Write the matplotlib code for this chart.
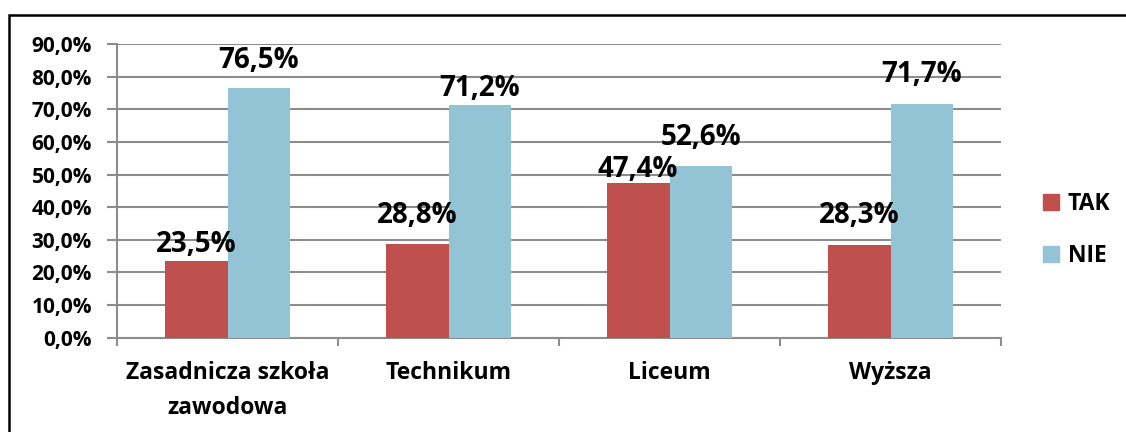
import matplotlib
matplotlib.use("Agg")
import matplotlib.pyplot as plt
import numpy as np
from matplotlib.patches import Rectangle, Patch
from matplotlib.ticker import FuncFormatter, MultipleLocator

categories = ["Zasadnicza szkoła\nzawodowa", "Technikum", "Liceum", "Wyższa"]
tak = [23.5, 28.8, 47.4, 28.3]
nie = [76.5, 71.2, 52.6, 71.7]
series_names = ["TAK", "NIE"]
colors = ["#C0504D", "#93C4D6"]

# label gaps above bar tops (pixels), as placed in the original
tak_gap_px = [9, 20.5, 6.5, 22]
nie_gap_px = [20, 9, 21, 22]

plt.rcParams['font.family'] = ['Open Sans', 'DejaVu Sans']
plt.rcParams['font.weight'] = 'bold'

W, H = 1126, 432
fig = plt.figure(figsize=(W / 100, H / 100), dpi=100)
ax = fig.add_axes([117 / W, 1 - 337.7 / H, (1001 - 117) / W, (337.7 - 44) / H])

x = np.arange(len(categories))
bw = 0.285
b1 = ax.bar(x - bw / 2, tak, bw, color=colors[0], label=series_names[0], zorder=3)
b2 = ax.bar(x + bw / 2, nie, bw, color=colors[1], label=series_names[1], zorder=3)

for bars, vals, gaps in ((b1, tak, tak_gap_px), (b2, nie, nie_gap_px)):
    for r, v, g in zip(bars, vals, gaps):
        ax.annotate(f"{v:.1f}%".replace(".", ","),
                    (r.get_x() + r.get_width() / 2, v),
                    xytext=(0, g * 0.72), textcoords="offset points",
                    ha="center", va="baseline", fontsize=20, fontweight="bold",
                    zorder=4)

ax.set_xlim(-0.5, len(categories) - 0.5)
ax.set_ylim(0, 90)
ax.yaxis.set_major_locator(MultipleLocator(10))
ax.yaxis.set_major_formatter(FuncFormatter(lambda v, p: f"{v:.1f}%".replace(".", ",")))
ax.grid(axis="y", color="#8C8C8C", lw=1.5, zorder=0)

ax.set_xticks(np.arange(-0.5, len(categories)), minor=False)
ax.set_xticklabels([])
ax.set_xticks(x, minor=True)
ax.set_xticklabels(categories, minor=True, fontsize=16.5, fontweight="bold",
                   linespacing=1.6, va="top")
ax.tick_params(axis="x", which="major", length=6, color="#8C8C8C", width=1.5)
ax.tick_params(axis="x", which="minor", length=0, pad=17)
ax.tick_params(axis="y", length=7, color="#8C8C8C", width=1.5, pad=11,
               labelsize=15)
for t in ax.get_yticklabels():
    t.set_fontweight("bold")

for s in ("top", "right"):
    ax.spines[s].set_visible(False)
for s in ("left", "bottom"):
    ax.spines[s].set_color("#8C8C8C")
    ax.spines[s].set_linewidth(1.5)

handles = [Patch(color=colors[0], label=series_names[0]),
           Patch(color=colors[1], label=series_names[1])]
fig.legend(handles=handles, loc="center left",
           bbox_to_anchor=(1022 / W, 1 - 230 / H), frameon=False,
           prop={"size": 16.5, "weight": "bold"},
           handlelength=0.7, handleheight=0.7, handletextpad=0.4,
           labelspacing=1.25)

fig.add_artist(Rectangle((9 / W, -0.2), 2, (H - 15) / H + 0.2,
                         transform=fig.transFigure, fill=False,
                         ec="black", lw=1.8))

fig.savefig("out.png", dpi=100)
